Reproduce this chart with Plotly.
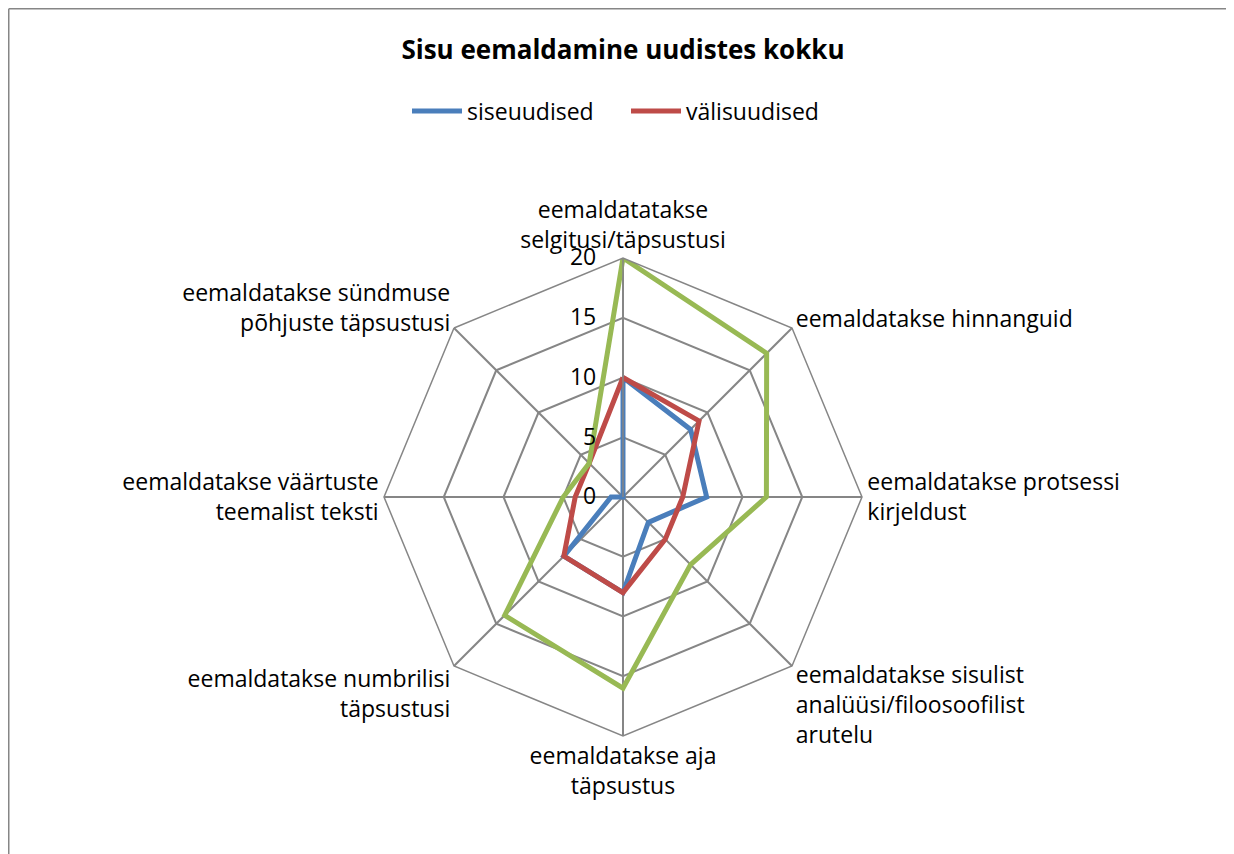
import plotly.graph_objects as go

categories = [
    "eemaldatatakse<br>selgitusi/täpsustusi",
    "eemaldatakse hinnanguid",
    "eemaldatakse protsessi<br>kirjeldust",
    "eemaldatakse sisulist<br>analüüsi/filoosoofilist<br>arutelu",
    "eemaldatakse aja<br>täpsustus",
    "eemaldatakse numbrilisi<br>täpsustusi",
    "eemaldatakse väärtuste<br>teemalist teksti",
    "eemaldatakse sündmuse<br>põhjuste täpsustusi",
]
siseuudised = [10, 8, 7, 3, 8, 7, 1, 0]
valisuudised = [10, 9, 5, 5, 8, 7, 4, 4]
kokku = [20, 17, 12, 8, 16, 14, 5, 4]
radial_ticks = [0, 5, 10, 15, 20]

FONT = "Open Sans"
OFF = 8  # browser body margin
W, H = 1234 - OFF, 854 - OFF

def closed(v):
    return list(v) + [v[0]]

fig = go.Figure()
fig.add_trace(go.Scatterpolar(r=closed(siseuudised), theta=closed(categories), mode="lines",
                              name="siseuudised", line=dict(color="#4A7EBB", width=5)))
fig.add_trace(go.Scatterpolar(r=closed(valisuudised), theta=closed(categories), mode="lines",
                              name="välisuudised", line=dict(color="#BE4B48", width=5)))
fig.add_trace(go.Scatterpolar(r=closed(kokku), theta=closed(categories), mode="lines",
                              name="kokku", showlegend=False, line=dict(color="#98B954", width=5)))

cx, cy, R = 623 - OFF, 497 - OFF, 239
fig.update_layout(
    width=W, height=H,
    margin=dict(l=0, r=0, t=0, b=0),
    paper_bgcolor="white",
    font=dict(family=FONT, size=23, color="black"),
    title=dict(text="<b>Sisu eemaldamine uudistes kokku</b>", x=(623 - OFF) / W, xanchor="center",
               y=1 - (50 - OFF) / H, yanchor="middle", font=dict(family=FONT, size=26, color="black")),
    legend=dict(orientation="h", x=(412 - 5 - OFF) / W, xanchor="left", y=1 - (111 - OFF) / H,
                yanchor="middle", font=dict(family=FONT, size=23), itemwidth=50,
                entrywidth=154, entrywidthmode="pixels"),
    polar=dict(
        domain=dict(x=[(cx - R) / W, (cx + R) / W], y=[(H - cy - R) / H, (H - cy + R) / H]),
        bgcolor="white",
        gridshape="linear",
        radialaxis=dict(range=[0, 20], tickvals=radial_ticks, angle=90, tickangle=90,
                        side="counterclockwise", showline=True, linecolor="#868686", linewidth=1.5,
                        gridcolor="#868686", gridwidth=1.5, ticks="outside", ticklen=18,
                        tickcolor="rgba(0,0,0,0)", tickfont=dict(size=23)),
        angularaxis=dict(direction="clockwise", rotation=90, showline=True, linecolor="#868686",
                         linewidth=1.5, gridcolor="#868686", gridwidth=1.5, ticks="",
                         tickfont=dict(size=23)),
    ),
    shapes=[
        dict(type="line", xref="paper", yref="paper", x0=0.75 / W, x1=0.75 / W, y0=1 - 0.75 / H, y1=0,
             line=dict(color="#868686", width=1.5)),
        dict(type="line", xref="paper", yref="paper", x0=0.75 / W, x1=1, y0=1 - 0.75 / H, y1=1 - 0.75 / H,
             line=dict(color="#868686", width=1.5)),
    ],
)
fig.write_html("out.html")
